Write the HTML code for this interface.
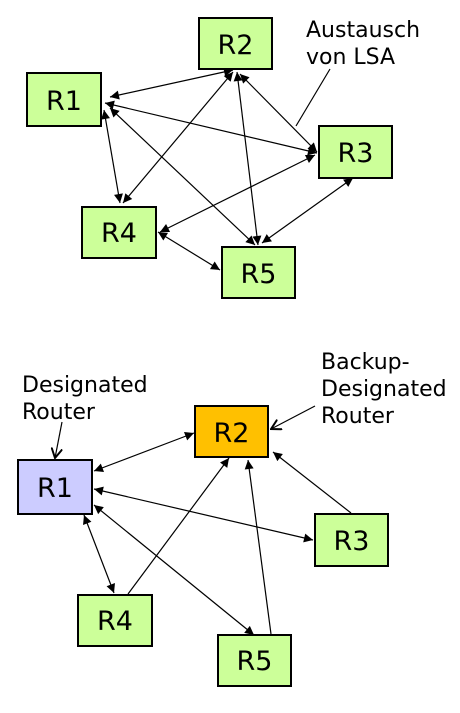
<!DOCTYPE html>
<html><head><meta charset="utf-8"><style>
html,body{margin:0;padding:0;background:#fff;}
svg{display:block;}
text{font-family:"DejaVu Sans","Liberation Sans",sans-serif;fill:#000;}
</style></head><body>
<svg width="460" height="713" viewBox="0 0 460 713" xmlns="http://www.w3.org/2000/svg">
<defs>
<marker id="a" viewBox="0 0 10 10" refX="10" refY="5" markerWidth="12" markerHeight="9" markerUnits="userSpaceOnUse" orient="auto-start-reverse">
<path d="M0,0 L10,5 L0,10 z" fill="#000"/></marker>
<marker id="o" viewBox="0 0 10 10" refX="9" refY="5" markerWidth="11" markerHeight="12" markerUnits="userSpaceOnUse" orient="auto">
<path d="M0,0 L9,5 L0,10" fill="none" stroke="#000" stroke-width="1.8"/></marker>
</defs>
<g stroke="#000" stroke-width="1.2" fill="none" marker-start="url(#a)" marker-end="url(#a)">
<line x1="110" y1="97" x2="233" y2="70"/>
<line x1="105" y1="103" x2="317" y2="153"/>
<line x1="104" y1="110" x2="120" y2="203"/>
<line x1="110" y1="108" x2="255" y2="245"/>
<line x1="233" y1="72" x2="123" y2="203"/>
<line x1="237" y1="72" x2="258" y2="245"/>
<line x1="240" y1="74" x2="317" y2="152"/>
<line x1="315" y1="155" x2="160" y2="232"/>
<line x1="353" y1="178" x2="262" y2="243"/>
<line x1="158" y1="232" x2="220" y2="270"/>
<line x1="94" y1="471" x2="194" y2="433"/>
<line x1="94" y1="489" x2="313" y2="540"/>
<line x1="84" y1="515" x2="114" y2="593"/>
<line x1="94" y1="505" x2="254" y2="635"/>
</g>
<g stroke="#000" stroke-width="1.2" fill="none" marker-end="url(#a)">
<line x1="128" y1="594" x2="229" y2="458"/>
<line x1="271" y1="634" x2="248" y2="460"/>
<line x1="351" y1="513" x2="273" y2="452"/>
</g>
<line x1="330" y1="69" x2="296" y2="126" stroke="#000" stroke-width="1.2"/>
<line x1="62" y1="422" x2="55" y2="458" stroke="#000" stroke-width="1.2" marker-end="url(#o)"/>
<line x1="315" y1="406" x2="271" y2="429" stroke="#000" stroke-width="1.2" marker-end="url(#o)"/>
<g stroke="#000" stroke-width="2">
<rect x="199" y="18" width="73" height="51" fill="#ccff99"/>
<rect x="27" y="73" width="74" height="53" fill="#ccff99"/>
<rect x="319" y="126" width="73" height="52" fill="#ccff99"/>
<rect x="82" y="207" width="74" height="51" fill="#ccff99"/>
<rect x="222" y="247" width="73" height="51" fill="#ccff99"/>
<rect x="195" y="406" width="73" height="51" fill="#ffc000"/>
<rect x="18" y="460" width="74" height="54" fill="#ccccff"/>
<rect x="315" y="514" width="73" height="52" fill="#ccff99"/>
<rect x="78" y="595" width="74" height="51" fill="#ccff99"/>
<rect x="218" y="635" width="73" height="51" fill="#ccff99"/>
</g>
<g font-size="27" text-anchor="middle">
<text x="235.5" y="54">R2</text>
<text x="64" y="110">R1</text>
<text x="355.5" y="162">R3</text>
<text x="119" y="242">R4</text>
<text x="258.5" y="283">R5</text>
<text x="231.5" y="442">R2</text>
<text x="55" y="497">R1</text>
<text x="351.5" y="550">R3</text>
<text x="115" y="630">R4</text>
<text x="254.5" y="670">R5</text>
</g>
<g font-size="22">
<text x="306" y="37">Austausch</text>
<text x="306" y="64">von LSA</text>
<text x="22" y="392">Designated</text>
<text x="22" y="419">Router</text>
<text x="321" y="369">Backup-</text>
<text x="321" y="396">Designated</text>
<text x="321" y="423">Router</text>
</g>
</svg>
</body></html>
